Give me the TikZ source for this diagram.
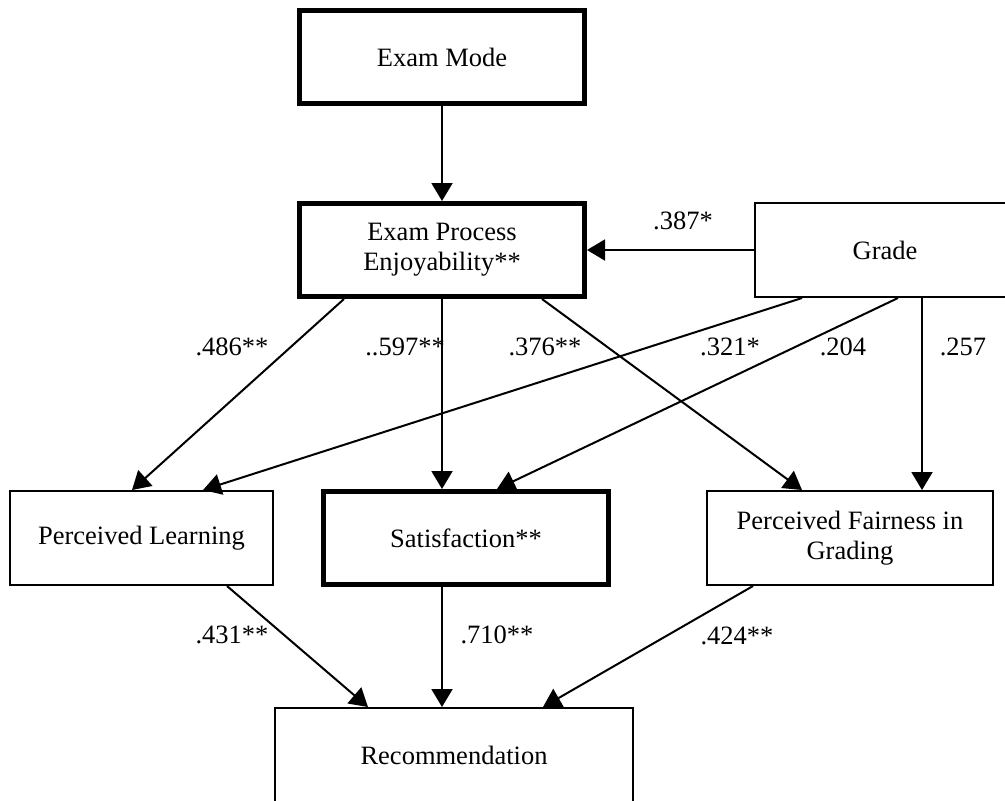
\documentclass[tikz,border=0pt]{standalone}
\usepackage{fontspec}
\setmainfont{Liberation Serif}
\usepackage{tikz}
\usetikzlibrary{arrows.meta,calc}
\colorlet{boxEdge}{black}
\colorlet{pathEdge}{black}

\begin{document}
\begin{tikzpicture}[
  x=0.5pt, y=-0.5pt,
  every node/.style={
    font=\fontsize{13.25}{15}\selectfont,
  },
  factor/.style={
    draw=boxEdge,
    line width=1pt,
    inner sep=0pt,
    align=center,
    minimum height=47pt,
  },
  key factor/.style={
    factor,
    line width=2.4pt,
    minimum width=142.6pt,
    minimum height=46.6pt,
  },
  link/.style={
    draw=pathEdge,
    line width=1pt,
    -{Triangle[length=9pt,width=10.5pt]},
  },
  coef/.style={
    inner sep=0pt,
  }
]
\clip (0,0) rectangle (1005,800);
% factors
\node[key factor] (mode) at (442,57) {Exam Mode};
\node[key factor] (enjoy) at (442,250) {Exam Process\\Enjoyability**};
\node[factor,minimum width=130pt] (grade) at (885,250) {Grade};
\node[factor,minimum width=131.5pt] (learn) at (141.5,538) {Perceived Learning};
\node[key factor] (satis) at (466,538) {Satisfaction**};
\node[factor,minimum width=143pt] (fair) at (850,538) {Perceived Fairness in\\Grading};
\node[factor,minimum width=179pt] (recom) at (454,755) {Recommendation};
% paths
\draw[link] (mode) -- (enjoy);
\draw[link] (grade.west) -- (enjoy.east);
\draw[link] ($(enjoy.south)+(-98,0)$) -- ($(learn.north)+(-9.5,0)$);
\draw[link] (enjoy.south) -- ($(satis.north)+(-24,0)$);
\draw[link] ($(enjoy.south)+(100,0)$) -- ($(fair.north)+(-48,0)$);
\draw[link] ($(grade.south)+(-83,0)$) -- ($(learn.north)+(61.5,0)$);
\draw[link] ($(grade.south)+(13,0)$) -- ($(satis.north)+(31,0)$);
\draw[link] ($(grade.south)+(37,0)$) -- ($(fair.north)+(72,0)$);
\draw[link] ($(learn.south)+(85.5,0)$) -- ($(recom.north)+(-86,0)$);
\draw[link] ($(satis.south)+(-24,0)$) -- ($(recom.north)+(-12,0)$);
\draw[link] ($(fair.south)+(-97,0)$) -- ($(recom.north)+(89,0)$);
% coefficients
\node[coef] (c387) at (683,221) {.387*};
\node[coef] (c486) at (232,347) {.486**};
\node[coef] (c597) at (405,347) {..597**};
\node[coef] (c376) at (545,347) {.376**};
\node[coef] (c321) at (730,347) {.321*};
\node[coef] (c204) at (843,347) {.204};
\node[coef] (c257) at (963,347) {.257};
\node[coef] (c431) at (232,635) {.431**};
\node[coef] (c710) at (497,635) {.710**};
\node[coef] (c424) at (737,636) {.424**};
\end{tikzpicture}
\end{document}
